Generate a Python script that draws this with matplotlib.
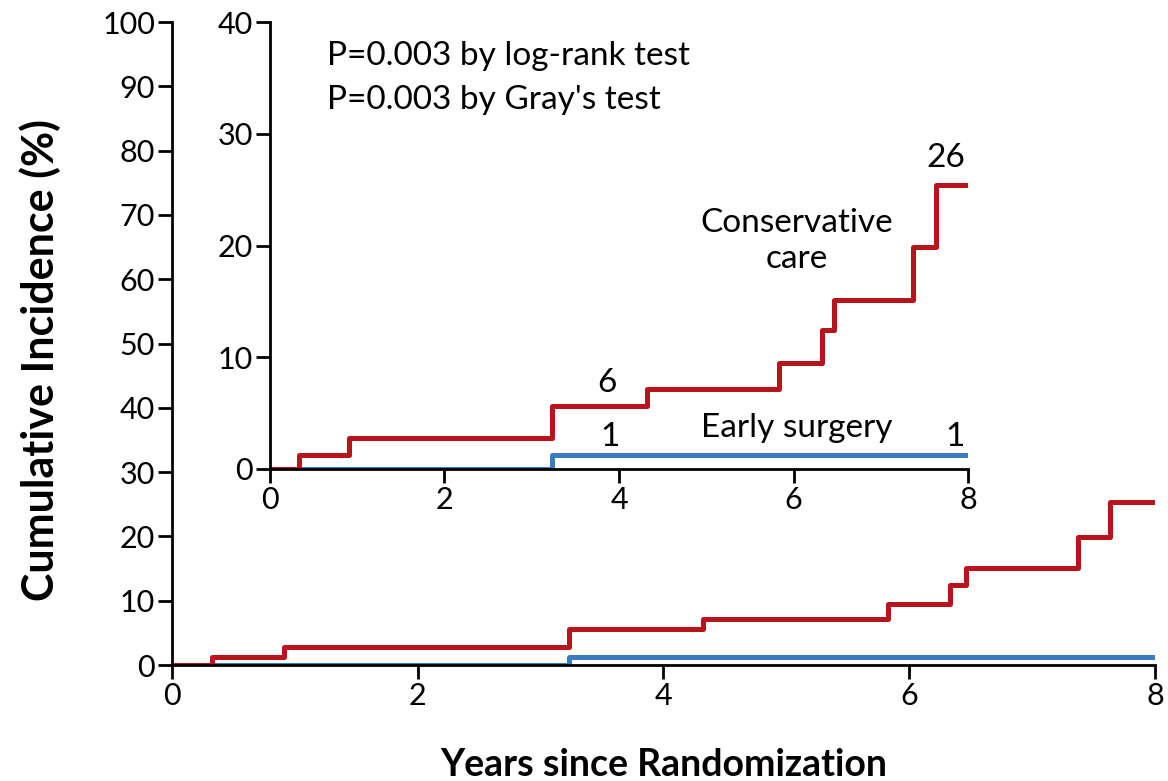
import numpy as np
import matplotlib.pyplot as plt

plt.rcParams['font.family'] = ['Lato', 'DejaVu Sans']

# step data (years, cumulative incidence %)
cons_t = [0, 0.33, 0.91, 3.23, 4.32, 5.83, 6.33, 6.46, 7.37, 7.63, 8.0]
cons_y = [0, 1.25, 2.8, 5.65, 7.2, 9.5, 12.4, 15.1, 19.9, 25.4, 25.4]
surg_t = [0, 3.23, 8.0]
surg_y = [0, 1.25, 1.25]

x_ticks = [0, 2, 4, 6, 8]
main_yticks = list(range(0, 101, 10))
inset_yticks = [0, 10, 20, 30, 40]

red = '#b8141c'
blue = '#3a7cc2'
lw = 3.6
fs = 24

fig = plt.figure(figsize=(11.68, 7.81), dpi=100)
ax = fig.add_axes([0.147, 0.1485, 0.842, 0.8233])
ax.plot(surg_t, surg_y, drawstyle='steps-post', color=blue, lw=lw, solid_capstyle='butt')
ax.plot(cons_t, cons_y, drawstyle='steps-post', color=red, lw=lw, solid_capstyle='butt')
ax.set_xlim(0, 8)
ax.set_ylim(0, 100)
ax.set_xticks(x_ticks)
ax.set_yticks(main_yticks)
for s in ['top', 'right']:
    ax.spines[s].set_visible(False)
for s in ['left', 'bottom']:
    ax.spines[s].set_linewidth(2)
ax.tick_params(width=2, length=10, labelsize=22, pad=2)
ax.set_ylabel('Cumulative Incidence (%)', fontsize=31, fontweight='bold', va='center', ha='center')
ax.yaxis.set_label_coords(-0.134, 0.474)
ax.set_xlabel('Years since Randomization', fontsize=27, fontweight='bold', va='center')
ax.xaxis.set_label_coords(0.5, -0.156)

# inset zoom
ins = fig.add_axes([0.231, 0.3995, 0.598, 0.5723])
ins.plot(surg_t, surg_y, drawstyle='steps-post', color=blue, lw=lw, solid_capstyle='butt')
ins.plot(cons_t, cons_y, drawstyle='steps-post', color=red, lw=lw, solid_capstyle='butt')
ins.set_xlim(0, 8)
ins.set_ylim(0, 40)
ins.set_xticks(x_ticks)
ins.set_yticks(inset_yticks)
for s in ['top', 'right']:
    ins.spines[s].set_visible(False)
for s in ['left', 'bottom']:
    ins.spines[s].set_linewidth(2)
ins.tick_params(width=2, length=10, labelsize=22, pad=2)

ins.text(0.66, 37.0, 'P=0.003 by log-rank test', fontsize=fs, va='center')
ins.text(0.66, 33.0, "P=0.003 by Gray's test", fontsize=fs, va='center')
ins.text(6.04, 20.4, 'Conservative\ncare', fontsize=fs, ha='center', va='center', linespacing=1.25)
ins.text(6.04, 3.7, 'Early surgery', fontsize=fs, ha='center', va='center')
ins.text(7.74, 27.8, '26', fontsize=fs, ha='center', va='center')
ins.text(3.86, 7.7, '6', fontsize=fs, ha='center', va='center')
ins.text(3.9, 2.9, '1', fontsize=fs, ha='center', va='center')
ins.text(7.85, 2.9, '1', fontsize=fs, ha='center', va='center')

fig.savefig('out.png', dpi=100)
